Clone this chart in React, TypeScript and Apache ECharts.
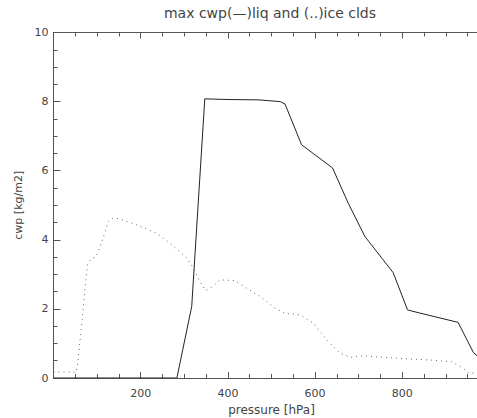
import React, { useEffect, useRef } from "react";
import * as echarts from "echarts";

const titleText = "max cwp(\u2014)liq and (..)ice clds";
const xName = "pressure [hPa]";
const yName = "cwp [kg/m2]";

const liqPressure = [0, 283, 317, 347, 400, 470, 520, 531, 569, 640, 676, 714, 779, 812, 840, 928, 963, 975];
const liqValue = [0, 0, 2.07, 8.08, 8.06, 8.05, 8.0, 7.93, 6.75, 6.08, 5.06, 4.1, 3.05, 1.97, 1.88, 1.61, 0.74, 0.6];

const icePressure = [0, 52, 55, 65, 72, 78, 84, 98, 111, 126, 137, 153, 191, 237, 271, 306, 321, 336, 349, 363, 382, 416, 443, 474, 508, 531, 565, 596, 627, 657, 680, 711, 787, 864, 913, 940, 951, 975];
const iceValue = [0.17, 0.17, 0.38, 1.59, 2.55, 3.28, 3.42, 3.52, 3.95, 4.53, 4.63, 4.6, 4.43, 4.19, 3.86, 3.47, 3.18, 2.79, 2.53, 2.63, 2.84, 2.82, 2.6, 2.36, 2.02, 1.87, 1.83, 1.59, 1.1, 0.72, 0.6, 0.64, 0.57, 0.52, 0.47, 0.28, 0.15, 0.13];

const xTicks = [200, 400, 600, 800];

export default function App() {
  const ref = useRef<HTMLDivElement>(null);
  useEffect(() => {
    if (!ref.current) return;
    const chart = echarts.init(ref.current, undefined, { renderer: "svg" });
    const font = "DejaVu Sans";
    const axisColor = "#555";
    const textColor = "#444";
    const liq = liqPressure.map((p, i) => [p, liqValue[i]]);
    const ice = icePressure.map((p, i) => [p, iceValue[i]]);
    chart.setOption({
      animation: false,
      backgroundColor: "#fff",
      grid: {
        left: 53.5,
        top: 32.5,
        width: 436,
        height: 345.5,
        containLabel: false,
        outerBoundsMode: "none",
      },
      graphic: [
        {
          type: "text",
          x: 270,
          y: 13,
          style: {
            text: titleText,
            textAlign: "center",
            textVerticalAlign: "middle",
            fontFamily: font,
            fontSize: 14,
            fill: textColor,
          },
        },
      ],
      xAxis: [
        {
          type: "value",
          min: 0,
          max: 1000,
          interval: 200,
          position: "bottom",
          name: xName,
          nameLocation: "middle",
          nameGap: 25,
          nameTextStyle: { fontFamily: font, fontSize: 12, color: textColor },
          axisLine: { show: true, lineStyle: { color: axisColor, width: 1 } },
          axisTick: { show: true, inside: true, length: 6, lineStyle: { color: axisColor } },
          minorTick: { show: true, splitNumber: 4, length: 4, lineStyle: { color: axisColor } },
          splitLine: { show: false },
          axisLabel: {
            margin: 10,
            fontFamily: font,
            fontSize: 11,
            color: textColor,
            formatter: (v: number) => (xTicks.includes(v) ? String(v) : ""),
          },
        },
        {
          type: "value",
          min: 0,
          max: 1000,
          interval: 200,
          position: "top",
          axisLine: { show: true, lineStyle: { color: axisColor, width: 1 } },
          axisTick: { show: true, inside: true, length: 6, lineStyle: { color: axisColor } },
          minorTick: { show: true, splitNumber: 4, length: 4, lineStyle: { color: axisColor } },
          splitLine: { show: false },
          axisLabel: { show: false },
        },
      ],
      yAxis: {
        type: "value",
        min: 0,
        max: 10,
        interval: 2,
        name: yName,
        nameLocation: "middle",
        nameGap: 26,
        nameTextStyle: { fontFamily: font, fontSize: 11, color: textColor },
        axisLine: { show: true, lineStyle: { color: axisColor, width: 1 } },
        axisTick: { show: true, inside: true, length: 7, lineStyle: { color: axisColor } },
        minorTick: { show: true, splitNumber: 4, length: 4, lineStyle: { color: axisColor } },
        splitLine: { show: false },
        axisLabel: { margin: 5, fontFamily: font, fontSize: 11, color: textColor },
      },
      series: [
        {
          type: "line",
          name: "liq",
          data: liq,
          xAxisIndex: 0,
          showSymbol: false,
          symbol: "none",
          clip: true,
          lineStyle: { color: "#222", width: 1, type: "solid" },
        },
        {
          type: "line",
          name: "ice",
          data: ice,
          xAxisIndex: 0,
          showSymbol: false,
          symbol: "none",
          clip: true,
          lineStyle: { color: "#666", width: 1, type: [1, 4] },
        },
      ],
    });
    return () => chart.dispose();
  }, []);
  return (
    <div
      ref={ref}
      style={{ position: "fixed", left: 0, top: 0, width: 477, height: 418, background: "#fff" }}
    />
  );
}
